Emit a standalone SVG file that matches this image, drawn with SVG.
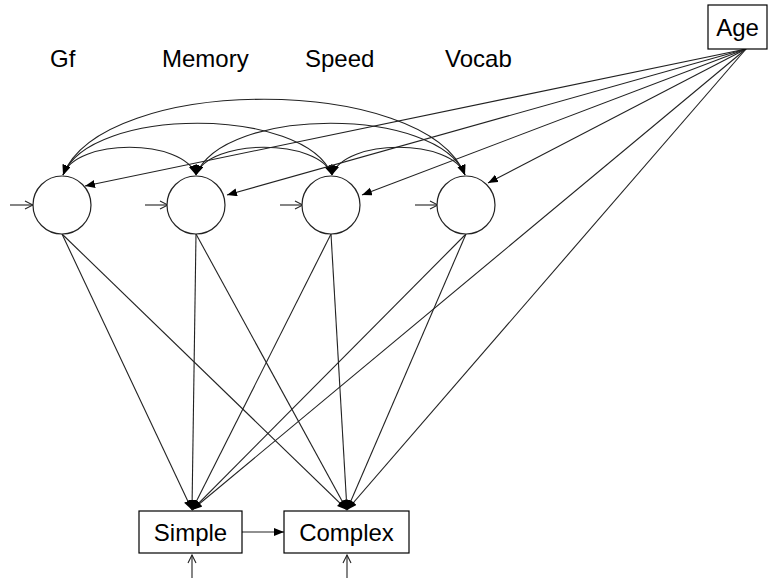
<svg xmlns="http://www.w3.org/2000/svg" width="771" height="583" viewBox="0 0 771 583">
  <style>
    .lbl { font-family: "Liberation Sans", Arial, sans-serif; font-size: 24px; fill: #000; }
    .box { fill: #fff; stroke: #000; stroke-width: 1.2; }
    .lat { fill: #fff; stroke: #222; stroke-width: 1.2; }
    .edge { fill: none; stroke: #222; stroke-width: 1.1; marker-end: url(#solid); }
    .cov { fill: none; stroke: #222; stroke-width: 1.1; marker-start: url(#solid); marker-end: url(#solid); }
    .res { fill: none; stroke: #222; stroke-width: 1.1; marker-end: url(#open); }
  </style>
  <defs>
    <marker id="solid" markerUnits="userSpaceOnUse" markerWidth="11" markerHeight="9" refX="10" refY="4" orient="auto-start-reverse">
      <path d="M0,0 L10,4 L0,8 z" fill="#000"/>
    </marker>
    <marker id="open" markerUnits="userSpaceOnUse" markerWidth="10" markerHeight="10" refX="9" refY="5" orient="auto">
      <path d="M1,1 L9,5 L1,9" fill="none" stroke="#222" stroke-width="1.1"/>
    </marker>
  </defs>
  <rect width="771" height="583" fill="#fff"/>

  <!-- factor labels -->
  <g id="labels">
    <text class="lbl" x="50" y="67">Gf</text>
    <text class="lbl" x="162" y="67">Memory</text>
    <text class="lbl" x="305" y="67">Speed</text>
    <text class="lbl" x="445" y="67">Vocab</text>
  </g>

  <g id="connectors">
    <!-- covariances among the latent factors -->
    <path class="cov" d="M63,175 C76,138 183,138 196,175"/>
    <path class="cov" d="M63,175 C90,106 305,106 332,175"/>
    <path class="cov" d="M63,175 C103,74 425,74 465,175"/>
    <path class="cov" d="M196,175 C209,138 319,138 332,175"/>
    <path class="cov" d="M196,175 C223,106 438,106 465,175"/>
    <path class="cov" d="M332,175 C345,138 452,138 465,175"/>

    <!-- Age effects -->
    <line class="edge" x1="746" y1="49" x2="85" y2="186"/>
    <line class="edge" x1="746" y1="49" x2="227" y2="195"/>
    <line class="edge" x1="746" y1="49" x2="362" y2="195"/>
    <line class="edge" x1="746" y1="49" x2="488" y2="183"/>
    <line class="edge" x1="746" y1="49" x2="192" y2="510"/>
    <line class="edge" x1="746" y1="49" x2="347" y2="510"/>

    <!-- factor loadings on outcomes -->
    <line class="edge" x1="62" y1="234" x2="192" y2="510"/>
    <line class="edge" x1="62" y1="234" x2="347" y2="510"/>
    <line class="edge" x1="196" y1="234" x2="192" y2="510"/>
    <line class="edge" x1="196" y1="234" x2="347" y2="510"/>
    <line class="edge" x1="331" y1="234" x2="192" y2="510"/>
    <line class="edge" x1="331" y1="234" x2="347" y2="510"/>
    <line class="edge" x1="466" y1="234" x2="192" y2="510"/>
    <line class="edge" x1="466" y1="234" x2="347" y2="510"/>

    <!-- Simple to Complex -->
    <line class="edge" x1="242" y1="532" x2="284" y2="532"/>

    <!-- residual terms -->
    <line class="res" x1="10" y1="205" x2="33" y2="205"/>
    <line class="res" x1="145" y1="205" x2="168" y2="205"/>
    <line class="res" x1="280" y1="205" x2="303" y2="205"/>
    <line class="res" x1="415" y1="205" x2="438" y2="205"/>
    <line class="res" x1="192" y1="578" x2="192" y2="555"/>
    <line class="res" x1="347" y1="578" x2="347" y2="555"/>
  </g>

  <!-- latent factors -->
  <g id="gf"><circle class="lat" cx="62" cy="205" r="29"/></g>
  <g id="memory"><circle class="lat" cx="196" cy="205" r="29"/></g>
  <g id="speed"><circle class="lat" cx="331" cy="205" r="29"/></g>
  <g id="vocab"><circle class="lat" cx="466" cy="205" r="29"/></g>

  <!-- observed variables -->
  <g id="age">
    <rect class="box" x="708" y="5" width="59" height="44"/>
    <text class="lbl" x="737.5" y="36" text-anchor="middle">Age</text>
  </g>
  <g id="simple">
    <rect class="box" x="139" y="511" width="103" height="42"/>
    <text class="lbl" x="190.5" y="541" text-anchor="middle">Simple</text>
  </g>
  <g id="complex">
    <rect class="box" x="284" y="511" width="125" height="42"/>
    <text class="lbl" x="346.5" y="541" text-anchor="middle">Complex</text>
  </g>
</svg>
